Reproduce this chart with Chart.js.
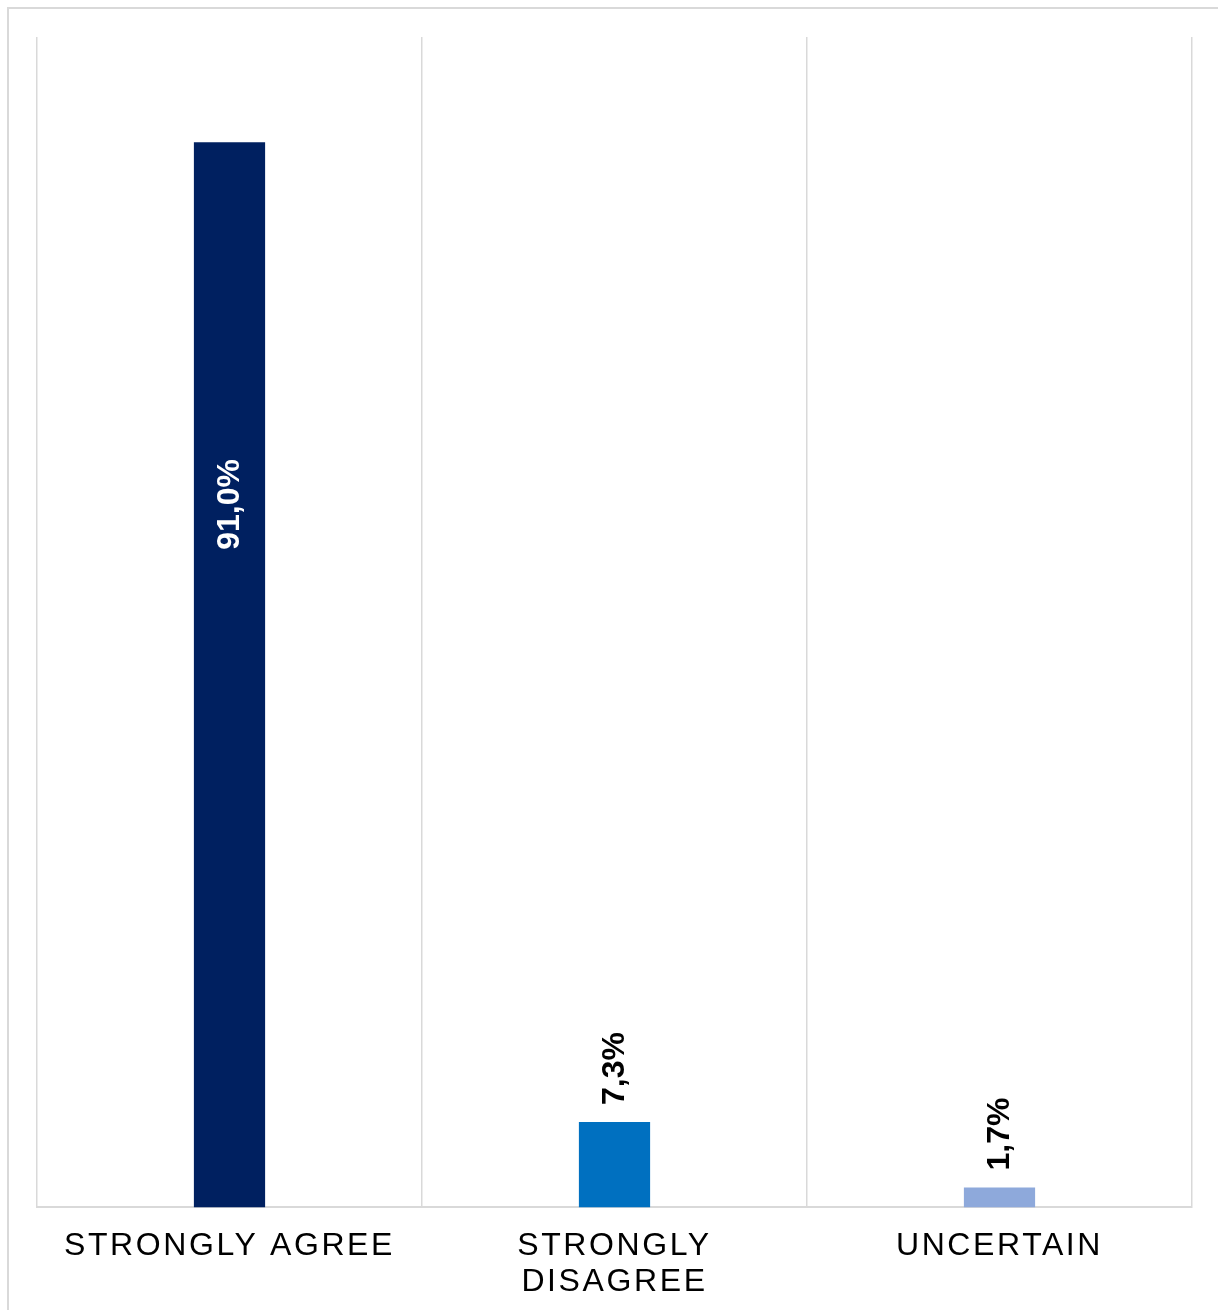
<!DOCTYPE html>
<html>
<head>
<meta charset="utf-8">
<script src="https://cdn.jsdelivr.net/npm/chart.js@4/dist/chart.umd.min.js"></script>
<style>
  html, body { margin: 0; padding: 0; background: #fff; overflow: hidden; width: 1218px; height: 1310px; }
  #frame { position: absolute; left: 7px; top: 7px; width: 1220px; height: 1320px;
           border-left: 2px solid #d9d9d9; border-top: 2px solid #d9d9d9; }
  #wrap { position: absolute; left: 0; top: 0; width: 1218px; height: 1332px; }
</style>
</head>
<body>
<div id="frame"></div>
<div id="wrap"><canvas id="c"></canvas></div>
<script>
const categories = [["STRONGLY AGREE"], ["STRONGLY", "DISAGREE"], ["UNCERTAIN"]];
const values = [91.0, 7.3, 1.7];
const barColors = ["#002060", "#0070C0", "#8EA9DB"];

const fmt = v => v.toFixed(1).replace('.', ',') + '%';

const spacingPlugin = {
  id: 'spacing',
  beforeUpdate(chart) { chart.ctx.letterSpacing = '2.6px'; },
  beforeDraw(chart) { chart.ctx.letterSpacing = '2.6px'; }
};

const labelPlugin = {
  id: 'valueLabels',
  afterDatasetsDraw(chart) {
    const ctx = chart.ctx;
    const meta = chart.getDatasetMeta(0);
    ctx.save();
    ctx.letterSpacing = '0px';
    ctx.font = 'bold 32px "Liberation Sans", Arial, sans-serif';
    meta.data.forEach((bar, i) => {
      const v = values[i];
      const h = bar.base - bar.y;
      ctx.save();
      if (h > 300) {
        const cy = bar.y + h * 0.34;
        ctx.translate(bar.x + 1, cy);
        ctx.rotate(-Math.PI / 2);
        ctx.textAlign = 'center';
        ctx.textBaseline = 'middle';
        ctx.fillStyle = '#ffffff';
        ctx.fillText(fmt(v), 0, 0);
      } else {
        ctx.translate(bar.x + 1, bar.y - 17);
        ctx.rotate(-Math.PI / 2);
        ctx.textAlign = 'left';
        ctx.textBaseline = 'middle';
        ctx.fillStyle = '#000000';
        ctx.fillText(fmt(v), 0, 0);
      }
      ctx.restore();
    });
    ctx.restore();
  }
};

new Chart(document.getElementById('c'), {
  type: 'bar',
  data: {
    labels: categories,
    datasets: [{
      data: values,
      backgroundColor: barColors,
      borderWidth: 0,
      categoryPercentage: 1.0,
      barPercentage: 0.185
    }]
  },
  options: {
    responsive: true,
    maintainAspectRatio: false,
    animation: false,
    events: [],
    layout: { padding: { left: 37, top: 37, right: 26, bottom: 11 } },
    plugins: { legend: { display: false }, tooltip: { enabled: false } },
    scales: {
      x: {
        offset: true,
        grid: { display: true, offset: true, color: '#d9d9d9', lineWidth: 1.5, drawTicks: false },
        border: { display: true, color: '#d9d9d9', width: 2 },
        ticks: {
          color: '#000000',
          padding: 20,
          maxRotation: 0,
          autoSkip: false,
          font: { family: '"Liberation Sans", Arial, sans-serif', size: 32, lineHeight: 1.15 }
        }
      },
      y: {
        display: false,
        min: 0,
        max: 100
      }
    }
  },
  plugins: [spacingPlugin, labelPlugin]
});
</script>
</body>
</html>
